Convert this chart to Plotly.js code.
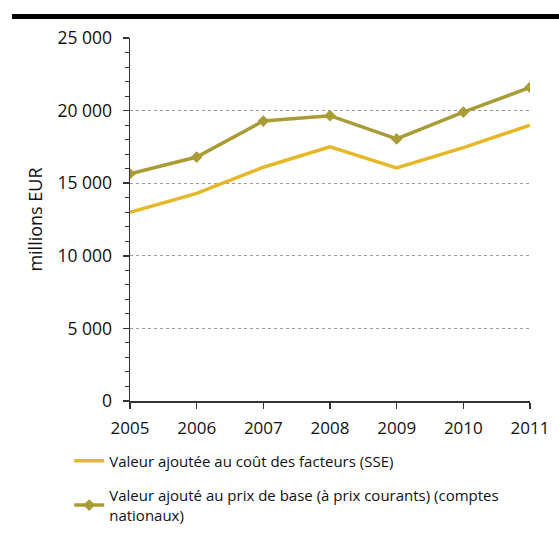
<!DOCTYPE html>
<html>
<head>
<meta charset="utf-8">
<script src="https://cdn.plot.ly/plotly-3.0.1.min.js"></script>
<style>html,body{margin:0;padding:0;background:#fff;}#chart{width:559px;height:536px;}</style>
</head>
<body>
<div id="chart"></div>
<script>
const years = [2005, 2006, 2007, 2008, 2009, 2010, 2011];
const valeurFacteurs = [13000, 14300, 16100, 17500, 16050, 17450, 19000];
const valeurPrixBase = [15650, 16800, 19280, 19650, 18050, 19900, 21600];
const seriesNames = [
  "Valeur ajoutée au coût des facteurs (SSE)",
  "Valeur ajouté au prix de base (à prix courants) (comptes<br>nationaux)"
];
const yTicks = [0, 5000, 10000, 15000, 20000, 25000];

const font = "'Open Sans', 'Noto Sans', sans-serif";

const traces = [
  {
    x: years, y: valeurFacteurs, name: seriesNames[0], type: 'scatter', mode: 'lines',
    line: {color: '#E6B829', width: 3.5}, legendgroup: 'a'
  },
  {
    x: years, y: valeurPrixBase, name: seriesNames[1], type: 'scatter', mode: 'lines+markers',
    line: {color: '#A99C36', width: 3.5},
    marker: {symbol: 'diamond', size: 9, color: '#A99C36'}, legendgroup: 'b'
  }
];

const layout = {
  width: 559, height: 536,
  margin: {l: 130, r: 29, t: 38, b: 135, autoexpand: false},
  paper_bgcolor: '#fff', plot_bgcolor: '#fff',
  separators: ', ',
  font: {family: font, size: 15, color: '#111'},
  showlegend: true,
  legend: {
    x: -0.152, xanchor: 'left', y: -0.12, yanchor: 'top',
    font: {family: font, size: 15, color: '#111'},
    tracegroupgap: 12, traceorder: 'grouped', bgcolor: 'rgba(0,0,0,0)'
  },
  xaxis: {
    range: [2005, 2011], tickvals: years, ticktext: years.map(String),
    showgrid: false, zeroline: false, showline: true, linecolor: '#333', linewidth: 1.5,
    ticks: 'outside', ticklen: 6, tickcolor: '#333', tickwidth: 1.5,
    ticklabelstandoff: 5,
    tickfont: {family: font, size: 17, color: '#111'}
  },
  yaxis: {
    range: [0, 25000], tickvals: yTicks, tickformat: ',d',
    showgrid: true, gridcolor: '#999', griddash: 'dot', gridwidth: 1,
    zeroline: false, showline: true, linecolor: '#333', linewidth: 1.5,
    ticks: 'outside', ticklen: 6, tickcolor: '#333', tickwidth: 1.5,
    ticklabelstandoff: 7,
    minor: {dtick: 1000, ticks: 'outside', ticklen: 4, tickcolor: '#333', tickwidth: 1, showgrid: false},
    tickfont: {family: font, size: 17.5, color: '#111'},
    title: {text: 'millions EUR', font: {family: font, size: 18, color: '#111'}, standoff: 10}
  },
  shapes: [
    {type: 'rect', xref: 'paper', yref: 'paper', x0: -0.295, x1: 1.075, y0: 1.052, y1: 1.066,
     fillcolor: '#000', line: {width: 0}}
  ]
};

Plotly.newPlot('chart', traces, layout, {displayModeBar: false, staticPlot: true});
</script>
</body>
</html>
